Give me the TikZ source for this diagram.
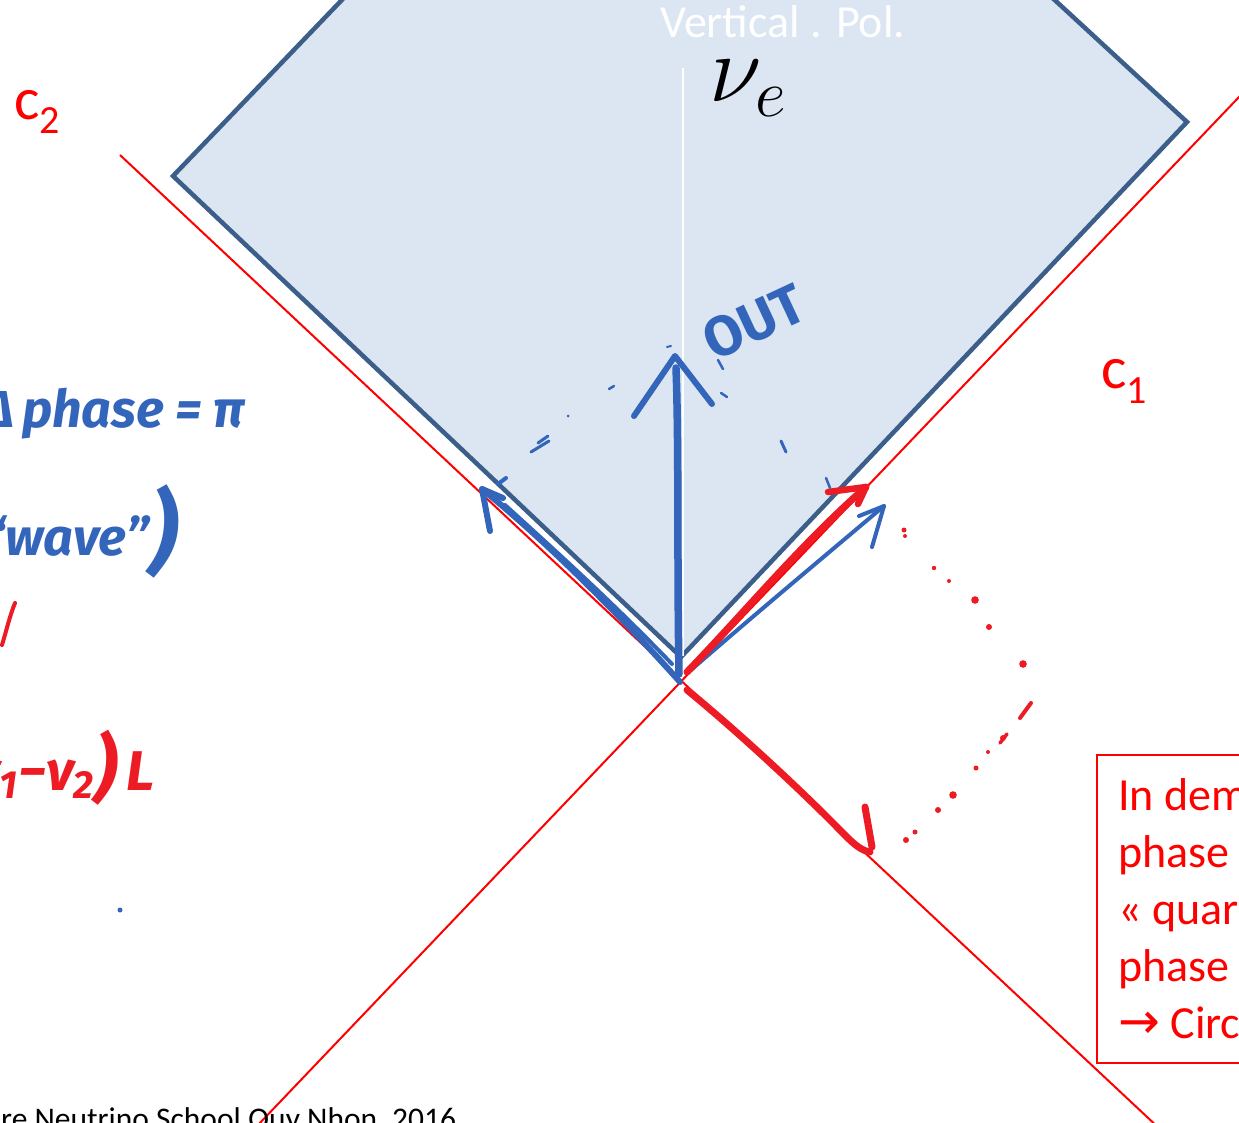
\RequirePackage{fix-cm}
\documentclass[tikz,border=0pt]{standalone}
\usepackage{fontspec}
\setmainfont{Carlito}
\newfontfamily\hand{Fira Sans}
\newfontfamily\sym{DejaVu Sans}
\definecolor{diafill}{RGB}{220,229,242}
\definecolor{diaedge}{RGB}{59,94,138}
\definecolor{handblue}{RGB}{51,101,186}
\definecolor{handred}{RGB}{237,28,36}
\definecolor{linered}{RGB}{255,0,0}
\tikzset{
  txt/.style={inner sep=0pt, anchor=base west},
  lab/.style={txt, text=linered, font=\fontsize{60}{60}\selectfont},
  hb/.style={txt, text=handblue, font=\hand\bfseries\itshape\fontsize{52}{56}\selectfont},
  hr/.style={txt, text=handred, font=\hand\bfseries\itshape\fontsize{56}{60}\selectfont},
  redline/.style={draw=linered, line width=2pt},
  stroke/.style={line cap=round, line join=round},
  bthick/.style={stroke, draw=handblue, line width=7.5pt},
  bmid/.style={stroke, draw=handblue, line width=6pt},
  bthin/.style={stroke, draw=handblue, line width=4pt},
  rthick/.style={stroke, draw=handred, line width=6.5pt},
  rdot/.style={fill=handred},
  bdot/.style={fill=handblue},
}
\begin{document}
\begin{tikzpicture}[x=1pt,y=-1pt]
\useasboundingbox (0,0) rectangle (1239,1123);
\clip (0,0) rectangle (1239,1123);
\fill[white] (0,0) rectangle (1239,1123);

% diamond
\coordinate (dtl) at (361,-20);
\coordinate (dl) at (173,176);
\coordinate (db) at (681,657);
\coordinate (dr) at (1187,122);
\coordinate (dtr) at (1033,-20);
\fill[diafill] (dtl) -- (dl) -- (db) -- (dr) -- (dtr) -- cycle;
\draw[diaedge, line width=4.5pt, line join=miter] (dtl) -- (dl) -- (db) -- (dr) -- (dtr);
\coordinate (axt) at (683,68);
\coordinate (axb) at (683,656);
\draw[white, line width=2pt] (axt) -- (axb);

% red light-cone lines
\coordinate (O) at (681.5,681);
\coordinate (c1a) at (238.9,1145);
\coordinate (c1b) at (1260,75);
\coordinate (c2a) at (120,155);
\coordinate (c2b) at (1177,1145);
\draw[redline] (c1a) -- (O) -- (c1b);
\draw[redline] (c2a) -- (O) -- (c2b);

% texts
\node[txt, text=white, font=\fontsize{46}{50}\selectfont] (vpol) at (660,38) {Vertical . Pol.};
\node[lab] (c2) at (14,120) {c\raisebox{-14pt}{\fontsize{40}{40}\selectfont 2}};
\node[lab] (c1) at (1101,388) {c\raisebox{-15pt}{\fontsize{40}{40}\selectfont 1}};
\node[txt, font=\fontsize{96}{98}\selectfont] (nue) at (709,102) {$\nu_e$};
\node[hb, font=\hand\bfseries\fontsize{56}{56}\selectfont, anchor=center, rotate=25] (out) at (754,322) {OUT};

\node[hb] (dphase) at (22,427) {\llap{Δ\hspace{8pt}}phase = π};
\node[hb] (wave) at (5,555) {\llap{(“}wave”\raisebox{-8pt}{\fontsize{92}{92}\selectfont)}};
\node[hr] (dnu) at (18,790) {\llap{(ν\textsubscript{1}}−ν\textsubscript{2}\raisebox{-3pt}{\fontsize{74}{74}\selectfont)}\,L};

% red box (partly cut by the frame)
\draw[linered, line width=1.5pt] (1097,755) rectangle (1300,1063);
\node[txt, text=linered, align=left, font=\fontsize{46}{57}\selectfont, anchor=north west] (boxtext) at (1118,778)
  {In dem\\phase\\« quar\\phase\\{\sym\fontsize{50}{57}\selectfont →} Circ};

% footer
\node[txt, text=black, font=\fontsize{31.5}{33}\selectfont] (foot) at (1,1129) {re Neutrino School Quy Nhon, 2016};

% blue vertical arrow
\coordinate (vb) at (679,674);
\coordinate (vs) at (676,368);
\coordinate (vt) at (675,356);
\coordinate (vhl) at (634,416);
\coordinate (vhr) at (712,404);
\draw[bthick] (vb) .. controls (677,560) and (679,450) .. (vs);
\draw[bmid] (vhl) -- (vt) -- (vhr);

% blue arrow along c2
\coordinate (lb) at (680,682);
\coordinate (lt) at (482,489);
\coordinate (lhl) at (490,531);
\coordinate (lhr) at (503,498);
\draw[bmid] (lb) .. controls (620,615) and (545,540) .. (lt);
\draw[bthin] (672,664) .. controls (610,600) and (560,555) .. (505,505);
\draw[bmid] (lhl) -- (lt) -- (lhr);
\draw[bthin] (498,484) -- (506,478);

% thin blue arrow along c1
\coordinate (rb) at (691,670);
\coordinate (rt) at (884,506);
\coordinate (rhl) at (859,516);
\coordinate (rhr) at (872,547);
\draw[bthin] (rb) .. controls (760,610) and (820,560) .. (rt);
\draw[bthin] (rhl) -- (rt) -- (rhr);

% red arrow along c1
\coordinate (qb) at (687,672);
\coordinate (qt) at (866,487);
\coordinate (qhl) at (828,492);
\coordinate (qhr) at (858,504);
\draw[rthick, line width=7pt] (qb) .. controls (745,612) and (800,545) .. (qt);
\draw[rthick] (qhl) -- (qt) -- (qhr);

% red stroke along c2 (downwards)
\coordinate (sb) at (687,690);
\coordinate (se) at (870,852);
\draw[rthick, line width=7pt] (sb) .. controls (730,725) and (790,780) .. (830,820) .. controls (850,840) and (858,850) .. (se);
\coordinate (hk1) at (865,807);
\coordinate (hk2) at (872,847);
\draw[rthick, line width=7pt] (hk1) -- (hk2);

% red dotted stroke
\foreach \p/\r in {(904,530)/2.5,(905,536)/2,(934,568)/2.2,(949,581)/2,(975,600)/3.8,(989,627)/3,(1023,664)/3.8,(1003,738)/3,(988,752)/2,(976,768)/2.5,(953,795)/3.8,(938,810)/3,(915,832)/2.5,(906,840)/3}
  \fill[rdot] \p circle (\r pt);
\draw[stroke, draw=handred, line width=4pt] (1020,718) -- (1031,703);
\draw[stroke, draw=handred, line width=3.5pt] (1000,743) -- (1007,734);

% red partial tick on the left
\draw[stroke, draw=handred, line width=4pt] (15,603) .. controls (10,615) and (6,632) .. (2,645);

% small blue marks
\draw[stroke, draw=handblue, line width=3pt] (531,452) -- (549,441);
\draw[stroke, draw=handblue, line width=3pt] (538,443) -- (548,436);
\fill[bdot] (568,416) circle (1.5pt);
\draw[stroke, draw=handblue, line width=2.5pt] (609,389) -- (614,386);
\draw[stroke, draw=handblue, line width=2pt] (667,347) -- (671,346);
\draw[stroke, draw=handblue, line width=2.5pt] (718,360) -- (723,369);
\draw[stroke, draw=handblue, line width=2.5pt] (721,393) -- (727,397);
\draw[stroke, draw=handblue, line width=3pt] (781,441) -- (786,452);
\draw[stroke, draw=handblue, line width=2.5pt] (826,478) -- (830,488);
\fill[bdot] (120,910) circle (2.5pt);
\end{tikzpicture}
\end{document}
